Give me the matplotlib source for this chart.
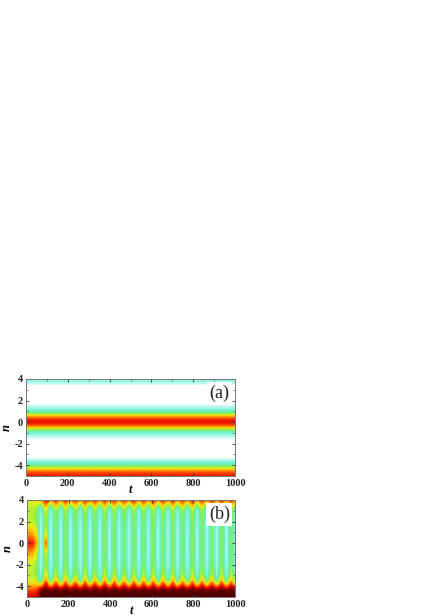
import numpy as np
import matplotlib
matplotlib.use("Agg")
import matplotlib.pyplot as plt
from matplotlib.colors import LinearSegmentedColormap

plt.rcParams['font.family'] = ['Liberation Serif', 'DejaVu Serif']
plt.rcParams['axes.unicode_minus'] = False

# Panel (a): steady profile over n
n_a = [-5, -4.75, -4.5, -4.25, -4, -3.75, -3.5, -3.3, -3, -1.7, -1.5, -1.2, -1, -0.75, -0.5, -0.25, 0,
       0.25, 0.5, 0.75, 1, 1.2, 1.5, 1.7, 3.3, 3.45, 3.6, 3.8, 4]
profile_a = [0.79, 0.75, 0.66, 0.47, 0.33, 0.22, 0.13, 0.0, 0.0, 0.0, 0.08, 0.18, 0.25, 0.40, 0.62, 0.76, 0.81,
             0.76, 0.62, 0.40, 0.25, 0.18, 0.08, 0.0, 0.0, 0.09, 0.15, 0.19, 0.24]
t_a = [0, 1000]

# Panel (b): breathing pattern
n_b = [-5, -4.5, -4.25, -4, -3.75, -3.5, -3, -2, -1, 0, 1, 2, 3, 3.25, 3.5, 3.75, 4]
start_profile = [0.84, 0.76, 0.70, 0.64, 0.56, 0.50, 0.46, 0.46, 0.62, 0.80, 0.62, 0.46, 0.45, 0.46, 0.47, 0.48, 0.50]
fade_profile = [0.86, 0.78, 0.72, 0.64, 0.56, 0.48, 0.42, 0.42, 0.50, 0.66, 0.50, 0.42, 0.42, 0.44, 0.48, 0.52, 0.56]
gap_profile = [1.00, 0.98, 0.88, 0.68, 0.47, 0.30, 0.20, 0.15, 0.13, 0.13, 0.13, 0.15, 0.19, 0.25, 0.36, 0.50, 0.65]
ridge_profile = [1.00, 1.00, 0.97, 0.85, 0.78, 0.65, 0.50, 0.42, 0.41, 0.43, 0.41, 0.42, 0.46, 0.52, 0.62, 0.72, 0.82]

gap_t = [66, 114, 161, 208, 255, 301, 348, 395, 441, 488, 535, 581, 628, 675, 721, 768, 815, 861, 908, 955]
ridge_t = [90, 138, 185, 232, 278, 325, 372, 418, 465, 512, 558, 605, 652, 698, 745, 792, 838, 885, 932, 978]
ridge_level = [1.0, 0.95, 1.0, 0.9, 1.0, 0.95, 1.0, 1.0, 0.9, 1.0, 0.95, 1.0, 0.95, 1.0, 0.92, 1.0, 0.95, 0.92, 1.0, 0.95]
bump_profile = [0, 0, 0, 0, 0, 0, 0, 0, 0.05, 0.26, 0.05, 0, 0, 0, 0, 0, 0]
shoulder_level = 0.45

tick_x = [0, 200, 400, 600, 800, 1000]
tick_y = [-4, -2, 0, 2, 4]
stops = [(0.0, '#ffffff'), (0.08, '#d8faf4'), (0.16, '#a0f8ea'), (0.24, '#70f0d0'), (0.34, '#70f090'), (0.42, '#90f040'),
         (0.50, '#e8f020'), (0.60, '#ffc000'), (0.70, '#ff6a00'), (0.80, '#f01000'), (0.90, '#b00000'), (1.0, '#500000')]
cmap = LinearSegmentedColormap.from_list('heat', stops)

gap = np.array(gap_profile)
ridge = np.array(ridge_profile)
t_b = [0, 25, 45]
cols = [np.array(start_profile), np.array(start_profile), np.array(fade_profile)]
for idx, (g, r, lev) in enumerate(zip(gap_t, ridge_t, ridge_level)):
    t_b += [g, g + 10]
    cols += [gap, gap + shoulder_level * (ridge - gap)]
    col = gap + lev * (ridge - gap)
    if idx == 0:
        t_b += [r - 6, r, r + 6]
        cols += [col + np.array(bump_profile)] * 3
    else:
        t_b.append(r)
        cols.append(col)
    if r + 13 < 1000:
        t_b.append(r + 13)
        cols.append(gap + shoulder_level * (ridge - gap))
t_b.append(1000)
cols.append(gap)
Z_b = np.column_stack(cols)
Z_a = np.column_stack([profile_a, profile_a])


def display_grid(t, n, Z):
    """Resample onto a fine grid so colours blend through the colormap."""
    tf = np.linspace(t[0], t[-1], 1001)
    nf = np.linspace(n[0], n[-1], 451)
    A = np.array([np.interp(tf, t, row) for row in Z])
    B = np.array([np.interp(nf, n, col) for col in A.T]).T
    return B


W, H = 436, 616
fig = plt.figure(figsize=(W / 100, H / 100), dpi=100)
boxes = [(26, 379, 235, 476), (27, 500, 235, 597)]
labels = ['(a)', '(b)']
data = [(t_a, n_a, Z_a), (t_b, n_b, Z_b)]

for (x0, y0, x1, y1), lab, (t, n, Z) in zip(boxes, labels, data):
    ax = fig.add_axes([x0 / W, 1 - y1 / H, (x1 - x0) / W, (y1 - y0) / H])
    ax.imshow(display_grid(t, n, Z), cmap=cmap, vmin=0, vmax=1, origin='lower', aspect='auto',
              extent=[0, 1000, -5, 4], interpolation='bilinear')
    ax.set_xlim(0, 1000)
    ax.set_ylim(-5, 4)
    ax.set_xticks(tick_x)
    ax.set_yticks(tick_y)
    ax.set_xticks([100, 300, 500, 700, 900], minor=True)
    ax.set_yticks([-5, -3, -1, 1, 3], minor=True)
    ax.tick_params(which='major', direction='in', length=2.5, width=0.6, top=True, right=True,
                   labelsize=7.5, pad=2, color='#333333')
    ax.tick_params(which='minor', direction='in', length=1.2, width=0.4, top=True, right=True, color='#333333')
    for lb in ax.get_xticklabels() + ax.get_yticklabels():
        lb.set_fontweight('bold')
        lb.set_color('#222222')
    for s in ax.spines.values():
        s.set_linewidth(0.7)
        s.set_color('#777777')
    ax.set_xlabel('t', fontsize=9, fontstyle='italic', fontweight='bold', labelpad=-3)
    ax.set_ylabel('n', fontsize=9, fontstyle='italic', fontweight='bold', labelpad=1)
    ax.text(0.925, 0.85, lab, transform=ax.transAxes, fontsize=13, ha='center', va='center', color='#222222',
            bbox=dict(facecolor='white', edgecolor='none', pad=1.8))

fig.savefig('out.png', dpi=100)
